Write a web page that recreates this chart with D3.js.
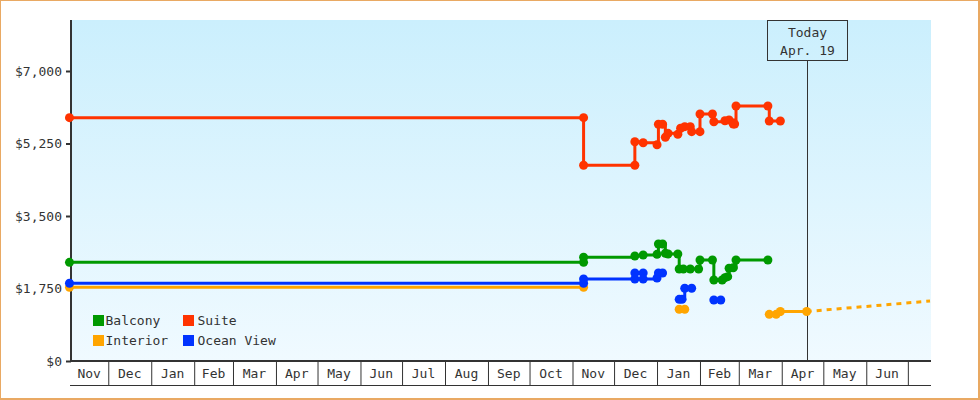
<!DOCTYPE html>
<html>
<head>
<meta charset="utf-8">
<script src="https://cdn.jsdelivr.net/npm/d3@7"></script>
<style>
  html, body { margin: 0; padding: 0; background: #fff; }
  svg { display: block; }
  text { font-family: "DejaVu Sans Mono", monospace; font-size: 13px; fill: #333; }
</style>
</head>
<body>
<svg id="chart" width="980" height="400"></svg>
<script>
// Cabin price history, [date, price]; null marks a gap in the record
const seriesNames = ["Balcony", "Suite", "Interior", "Ocean View"];
const seriesColors = ["#009900", "#ff3300", "#ffa500", "#0033ff"];

const balcony = [
  ["2021-11-03", 2382], ["2022-11-09", 2382], ["2022-11-09", 2503], ["2022-12-16", 2534],
  ["2022-12-22", 2559], ["2023-01-01", 2575], ["2023-01-02", 2824], ["2023-01-05", 2824],
  ["2023-01-07", 2600], ["2023-01-09", 2583], ["2023-01-16", 2583], ["2023-01-17", 2221],
  ["2023-01-20", 2221], ["2023-01-25", 2221], ["2023-01-31", 2221], ["2023-02-01", 2438],
  ["2023-02-10", 2438], ["2023-02-11", 1955], ["2023-02-17", 1955], ["2023-02-19", 2011],
  ["2023-02-21", 2035], ["2023-02-22", 2238], ["2023-02-25", 2252], ["2023-02-27", 2438],
  ["2023-03-22", 2438]
];

const suite = [
  ["2021-11-03", 5873], ["2022-11-09", 5873], ["2022-11-09", 4724], ["2022-12-16", 4724],
  ["2022-12-16", 5293], ["2022-12-22", 5269], ["2023-01-01", 5221], ["2023-01-02", 5714],
  ["2023-01-05", 5714], ["2023-01-07", 5400], ["2023-01-09", 5496], ["2023-01-16", 5472],
  ["2023-01-18", 5617], ["2023-01-21", 5656], ["2023-01-25", 5656], ["2023-01-26", 5535],
  ["2023-02-01", 5535], ["2023-02-01", 5962], ["2023-02-10", 5962], ["2023-02-11", 5776],
  ["2023-02-19", 5800], ["2023-02-22", 5817], ["2023-02-25", 5721], ["2023-02-26", 5721],
  ["2023-02-27", 6155], ["2023-03-22", 6155], ["2023-03-23", 5793], ["2023-03-31", 5793]
];

const interior = [
  ["2021-11-03", 1779], ["2022-11-09", 1779], null,
  ["2023-01-17", 1248], ["2023-01-21", 1248], null,
  ["2023-03-23", 1127], ["2023-03-28", 1127], ["2023-03-31", 1195], ["2023-04-19", 1195]
];

const oceanView = [
  ["2021-11-03", 1876], ["2022-11-09", 1876], ["2022-11-09", 1979], ["2022-12-16", 1979],
  ["2022-12-16", 2124], ["2022-12-22", 2124], ["2022-12-22", 1979], ["2023-01-01", 2003],
  ["2023-01-02", 2124], ["2023-01-05", 2124], null,
  ["2023-01-17", 1489], ["2023-01-19", 1489], ["2023-01-21", 1755], ["2023-01-26", 1755], null,
  ["2023-02-11", 1472], ["2023-02-16", 1472]
];

// Projected interior price from today to the end of the window
const interiorForecast = [["2023-04-19", 1195], ["2023-07-17", 1448]];

const yTicks = [0, 1750, 3500, 5250, 7000];
const todayDate = "2023-04-19";
const todayLabel = ["Today", "Apr. 19"];

const seriesData = [balcony, suite, interior, oceanView];

const parse = d3.timeParse("%Y-%m-%d");
const svg = d3.select("#chart");

// Frame
svg.append("rect").attr("width", 980).attr("height", 400).attr("fill", "#e9a963");
svg.append("rect").attr("x", 1).attr("y", 1).attr("width", 977).attr("height", 397).attr("fill", "#fff");

const x0 = new Date(2021, 10, 3, 9), x1 = new Date(2023, 6, 17, 17);
const x = d3.scaleTime().domain([x0, x1]).range([70, 931]);
const y = d3.scaleLinear().domain([0, 7000]).range([361, 71]);
const plotTop = 20;

// Plot background gradient
const defs = svg.append("defs");
const grad = defs.append("linearGradient").attr("id", "bg").attr("x1", 0).attr("y1", 0).attr("x2", 0).attr("y2", 1);
grad.append("stop").attr("offset", "0%").attr("stop-color", "#cbeffd");
grad.append("stop").attr("offset", "100%").attr("stop-color", "#f0faff");
svg.append("rect")
  .attr("x", 72).attr("y", plotTop)
  .attr("width", 931 - 72).attr("height", 361 - plotTop)
  .attr("fill", "url(#bg)");

// Month cells under the time axis
const monthStarts = d3.timeMonth.range(d3.timeMonth.ceil(x0), x1);
const xAxis = d3.axisBottom(x).tickValues(monthStarts).tickSize(25).tickSizeOuter(0).tickFormat("");
const gx = svg.append("g").attr("transform", "translate(0,360)").call(xAxis);
gx.select(".domain").remove();
gx.selectAll(".tick line").attr("stroke", "#333");

const bounds = [x0, ...monthStarts, x1];
const fmtMonth = d3.timeFormat("%b");
const cells = d3.pairs(bounds).filter(([a, b]) => x(b) - x(a) > 30);
svg.append("g").selectAll("text").data(cells).join("text")
  .attr("x", ([a, b]) => (x(a) + x(b)) / 2)
  .attr("y", 378)
  .attr("text-anchor", "middle")
  .text(([a, b]) => fmtMonth(d3.timeDay.offset(a, 5)));

svg.append("line").attr("x1", 70).attr("x2", 931).attr("y1", 385.5).attr("y2", 385.5)
  .attr("stroke", "#333").attr("stroke-width", 1);
svg.append("line").attr("x1", 70).attr("x2", 931).attr("y1", 361).attr("y2", 361)
  .attr("stroke", "#333").attr("stroke-width", 2);

// Price axis
const yAxis = d3.axisLeft(y).tickValues(yTicks).tickSize(5).tickSizeOuter(0).tickPadding(4)
  .tickFormat(v => "$" + d3.format(",")(v));
const gy = svg.append("g").attr("transform", "translate(71,0)").call(yAxis);
gy.select(".domain").remove();
gy.selectAll(".tick line").attr("stroke", "#333").attr("stroke-width", 2);
gy.selectAll(".tick text").attr("fill", "#333").style("font-family", '"DejaVu Sans Mono", monospace').style("font-size", "13px");
svg.append("line").attr("x1", 71).attr("x2", 71).attr("y1", plotTop).attr("y2", 362)
  .attr("stroke", "#333").attr("stroke-width", 2);

// Today marker
const tx = x(parse(todayDate));
svg.append("line").attr("x1", Math.round(tx) + 0.5).attr("x2", Math.round(tx) + 0.5)
  .attr("y1", 61).attr("y2", 360).attr("stroke", "#333").attr("stroke-width", 1);
svg.append("rect").attr("x", Math.round(tx) - 39.5).attr("y", 20.5).attr("width", 80).attr("height", 40)
  .attr("fill", "none").attr("stroke", "#333").attr("stroke-width", 1);
svg.append("g").selectAll("text").data(todayLabel).join("text")
  .attr("x", Math.round(tx) + 0.5).attr("y", (d, i) => 37 + i * 18)
  .attr("text-anchor", "middle").text(d => d);

// Series
const line = d3.line()
  .defined(d => d)
  .x(d => x(parse(d[0])))
  .y(d => y(d[1]))
  .curve(d3.curveStepAfter);

seriesData.forEach((data, i) => {
  const g = svg.append("g");
  if (i === 2) {
    g.append("path").datum(interiorForecast)
      .attr("d", d3.line().x(d => x(parse(d[0]))).y(d => y(d[1])))
      .attr("fill", "none").attr("stroke", seriesColors[i]).attr("stroke-width", 3)
      .attr("stroke-dasharray", "5,5");
  }
  g.append("path").datum(data)
    .attr("d", line)
    .attr("fill", "none").attr("stroke", seriesColors[i]).attr("stroke-width", 3);
  g.selectAll("circle").data(data.filter(d => d)).join("circle")
    .attr("cx", d => x(parse(d[0])))
    .attr("cy", d => y(d[1]))
    .attr("r", 4.5)
    .attr("fill", seriesColors[i]);
});

// Legend
const legendPos = [[93, 315], [183, 315], [93, 335], [183, 335]];
const legend = svg.append("g").selectAll("g").data(seriesNames).join("g")
  .attr("transform", (d, i) => `translate(${legendPos[i][0]},${legendPos[i][1]})`);
legend.append("rect").attr("width", 11).attr("height", 11).attr("fill", (d, i) => seriesColors[i]);
legend.append("text").attr("x", (d, i) => i % 2 === 0 ? 12.5 : 14.5).attr("y", 10).text(d => d);
</script>
</body>
</html>
